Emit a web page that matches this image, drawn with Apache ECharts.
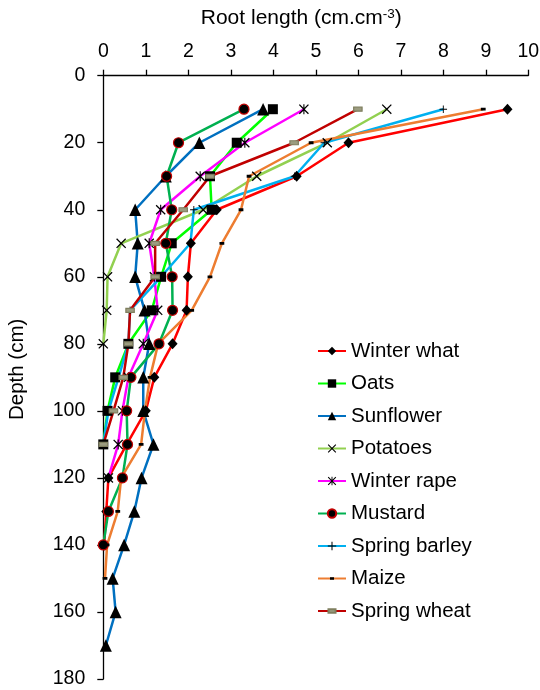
<!DOCTYPE html>
<html>
<head>
<meta charset="utf-8">
<script src="https://cdn.jsdelivr.net/npm/echarts@6/dist/echarts.min.js"></script>
<style>
html,body{margin:0;padding:0;background:#fff;}
#chart{width:540px;height:690px;}
</style>
</head>
<body>
<div id="chart"></div>
<script>
const depths = [10,20,30,40,50,60,70,80,90,100,110,120,130,140,150,160,170];
const seriesNames = ['Winter what','Oats','Sunflower','Potatoes','Winter rape','Mustard','Spring barley','Maize','Spring wheat'];
const winterWheat = [9.51,5.77,4.55,2.67,2.06,1.99,1.96,1.63,1.2,1.0,0.55,0.12,0.07,0.02];
const oats = [3.99,3.14,2.51,2.55,1.61,1.36,1.14,0.59,0.28,0.1,0.0];
const sunflower = [3.76,2.26,1.47,0.75,0.81,0.75,0.97,1.08,0.94,0.94,1.18,0.9,0.73,0.49,0.22,0.29,0.06];
const potatoes = [6.67,5.27,3.61,2.35,0.42,0.10,0.08,0.0];
const winterRape = [4.72,3.33,2.28,1.35,1.08,1.2,1.28,0.94,0.59,0.45,0.35,0.12];
const mustard = [3.31,1.77,1.49,1.61,1.47,1.62,1.63,1.31,0.65,0.55,0.57,0.45,0.12,0.0];
const springBarley = [8.0,5.2,4.5,2.13,2.05,1.36,0.63,0.59,0.36,0.12,0.0];
const maize = [8.94,4.89,3.43,3.24,2.79,2.51,2.08,1.29,1.1,0.98,0.89,0.42,0.34,0.09,0.04];
const springWheat = [5.99,4.49,2.51,1.88,1.22,1.22,0.63,0.59,0.47,0.24,0.0];
const xTicks = [0,1,2,3,4,5,6,7,8,9,10];
const yTicks = [0,20,40,60,80,100,120,140,160,180];

const valuesList = [winterWheat,oats,sunflower,potatoes,winterRape,mustard,springBarley,maize,springWheat];

const X_PATH = 'path://M0,0.9L0.9,0L5,4.1L9.1,0L10,0.9L5.9,5L10,9.1L9.1,10L5,5.9L0.9,10L0,9.1L4.1,5Z';
const PLUS_PATH = 'path://M4.4,0H5.6V4.4H10V5.6H5.6V10H4.4V5.6H0V4.4H4.4Z';
const AST_PATH = 'path://M0,0.9L0.9,0L4.45,3.55V0H5.55V3.55L9.1,0L10,0.9L5.9,5L10,9.1L9.1,10L5.55,6.45V10H4.45V6.45L0.9,10L0,9.1L4.1,5Z';
const DASH_PATH = 'path://M0,0Z M10,10Z M2.6,3.6H7.4V6.4H2.6Z';
const WDASH_PATH = 'path://M0,0Z M10,10Z M0.8,3H9.2V7H0.8Z';

const styles = [
  {color:'#FF0000', symbol:'diamond', size:[10,11], mColor:'#000', border:null},
  {color:'#00FF00', symbol:'rect', size:[10,10], mColor:'#000', border:null},
  {color:'#0070C0', symbol:'triangle', size:[12,12.5], mColor:'#000', border:null},
  {color:'#92D050', symbol:X_PATH, size:[10,10], mColor:'#000', border:null},
  {color:'#FF00FF', symbol:AST_PATH, size:[10,10], mColor:'#000', border:null},
  {color:'#00B050', symbol:'circle', size:[10,10], mColor:'#000', border:'#C00000'},
  {color:'#00B0F0', symbol:PLUS_PATH, size:[7.5,7.5], mColor:'#000', border:null},
  {color:'#ED7D31', symbol:DASH_PATH, size:[10,10], mColor:'#000', border:null},
  {color:'#C00000', symbol:WDASH_PATH, size:[10,10], mColor:'#9C9C80', border:'#7F7F5F'}
];

const series = seriesNames.map((name,i)=>{
  const st = styles[i];
  const vals = valuesList[i];
  return {
    name: name,
    type: 'line',
    data: vals.map((v,k)=>[v, depths[k]]),
    symbol: st.symbol,
    symbolSize: st.size,
    showAllSymbol: true,
    lineStyle: {color: st.color, width: 2.5},
    itemStyle: {color: st.mColor, borderColor: st.border || st.mColor, borderWidth: st.border ? 1.2 : 0},
    emphasis: {disabled: true},
    animation: false
  };
});

const chart = echarts.init(document.getElementById('chart'), null, {renderer:'canvas'});
chart.setOption({
  animation: false,
  textStyle: {fontFamily: 'Liberation Sans, Arial, sans-serif'},
  grid: {left: 103.3, top: 75.7, right: 11.7, bottom: 11, containLabel: false, outerBoundsMode: 'none'},
  legend: {
    orient: 'vertical',
    left: 312,
    top: 335,
    itemWidth: 28,
    itemHeight: 10.5,
    itemGap: 10.5,
    data: seriesNames,
    textStyle: {fontSize: 20.5, color: '#000', fontFamily: 'Liberation Sans, Arial, sans-serif', lineHeight: 22},
    selectedMode: false
  },
  xAxis: {
    type: 'value',
    position: 'top',
    min: 0, max: 10, interval: 1,
    name: '{a|Root length (cm.cm}{s|-3}{a|)}',
    nameLocation: 'middle',
    nameGap: 46.5,
    nameTextStyle: {
      padding: [0, 29, 0, 0],
      rich: {
        a: {fontSize: 21, color: '#000', fontFamily: 'Liberation Sans, Arial, sans-serif'},
        s: {fontSize: 13.5, color: '#000', fontFamily: 'Liberation Sans, Arial, sans-serif', verticalAlign: 'top', padding: [0,0,8,0]}
      }
    },
    splitLine: {show: false},
    axisLine: {lineStyle: {color: '#000', width: 1.3}},
    axisTick: {show: true, inside: false, length: 6, lineStyle: {color: '#000', width: 1.3}},
    axisLabel: {fontSize: 19.5, color: '#000', margin: 14, formatter: v => xTicks.includes(v) ? String(v) : ''}
  },
  yAxis: {
    type: 'value',
    inverse: true,
    min: 0, max: 180, interval: 20,
    name: 'Depth (cm)',
    nameLocation: 'middle',
    nameGap: 75,
    nameRotate: 90,
    nameTextStyle: {fontSize: 20.5, color: '#000', fontFamily: 'Liberation Sans, Arial, sans-serif', padding: [0, 0, 0, 16]},
    splitLine: {show: false},
    axisLine: {lineStyle: {color: '#000', width: 1.3}},
    axisTick: {show: true, inside: false, length: 6, lineStyle: {color: '#000', width: 1.3}},
    axisLabel: {fontSize: 19.5, color: '#000', margin: 18, formatter: v => yTicks.includes(v) ? String(v) : ''}
  },
  series: series
});
</script>
</body>
</html>
